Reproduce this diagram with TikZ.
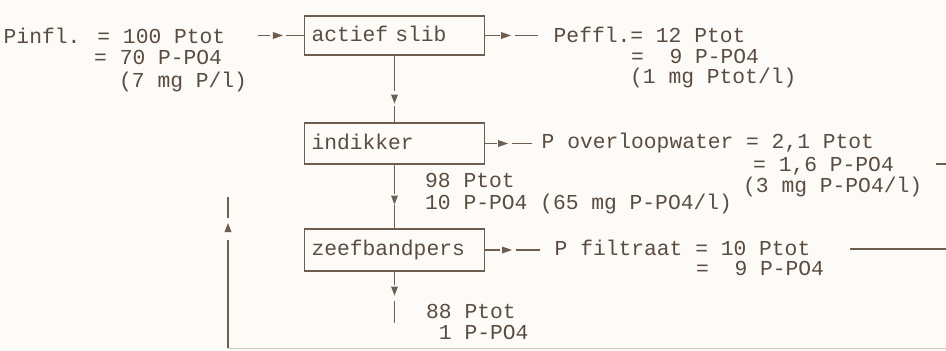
\documentclass[tikz,border=0pt]{standalone}
\usepackage{fontspec}
\newfontfamily\mono[WordSpace={1,0,0}]{Liberation Mono}
\definecolor{ink}{HTML}{5A4C40}
\definecolor{wire}{HTML}{6E5E50}
\definecolor{faint}{HTML}{CFC6BC}
\definecolor{paper}{HTML}{FCFBF8}
\begin{document}
\begin{tikzpicture}[x=1pt,y=-1pt,
  txt/.style={anchor=base west, inner sep=0pt, font=\mono\fontsize{21.3}{21}\selectfont, text=ink},
  stage/.style={draw=wire, line width=1.1pt, minimum width=180pt, inner xsep=7pt,
     text width=166pt, align=left, text height=11pt, text depth=0pt,
     font=\mono\fontsize{21.3}{21}\selectfont, text=ink},
  wirel/.style={draw=wire, line width=1.1pt},
  ahright/.pic={\fill[wire] (0,-3.5) -- (10,0) -- (0,3.5) -- cycle;},
  ahdown/.pic={\fill[wire] (-3.5,0) -- (0,9) -- (3.5,0) -- cycle;},
  ahup/.pic={\fill[wire] (-3.5,0) -- (0,-9) -- (3.5,0) -- cycle;}]
\fill[paper] (0,0) rectangle (946,351);
\useasboundingbox (0,0) rectangle (946,351);

% boxes
\node[stage, minimum height=39pt] (a) at (394.5,35.5) {actief slib};
\node[stage, minimum height=41pt] (i) at (394.5,143.5) {indikker};
\node[stage, minimum height=42pt] (z) at (394.5,250) {zeefbandpers};

% influent text
\node[txt] (p1) at (3.5,43) {Pinfl. = 100 Ptot};
\node[txt] (p2) at (94,64) {= 70 P-PO4};
\node[txt] (p3) at (119,87) {(7 mg P/l)};

% effluent text
\node[txt] (e1) at (553.5,42) {Peffl.= 12 Ptot};
\node[txt] (e2) at (631,63) {=\ \ 9 P-PO4};
\node[txt] (e3) at (630,83) {(1 mg Ptot/l)};

% overloop text
\node[txt] (o1) at (541.5,148) {P overloopwater = 2,1 Ptot};
\node[txt] (o2) at (753,171) {= 1,6 P-PO4};
\node[txt] (o3) at (743,192) {(3 mg P-PO4/l)};

% thickener underflow text
\node[txt] (t1) at (425,187) {98 Ptot};
\node[txt] (t2) at (425,209) {10 P-PO4 (65 mg P-PO4/l)};

% filtrate text
\node[txt] (f1) at (554.5,255) {P filtraat = 10 Ptot};
\node[txt] (f2) at (696,275) {=\ \ 9 P-PO4};

% cake text
\node[txt] (k1) at (426,318) {88 Ptot};
\node[txt] (k2) at (426,339) {\ 1 P-PO4};

% coordinates
\coordinate (inA) at (258,0);
\coordinate (oE) at (538,0);
\coordinate (oO) at (532,0);
\coordinate (oF) at (540,0);
\coordinate (cakeEnd) at (0,323);

% influent arrow
\draw[wirel] (a.west -| inA) -- ++(12,0);
\pic at ([xshift=-31pt]a.west) {ahright};
\draw[wirel] ([xshift=-18pt]a.west) -- (a.west);

% actief slib -> effluent
\draw[wirel] (a.east) -- ++(15,0);
\pic at ([xshift=16pt]a.east) {ahright};
\draw[wirel] ([xshift=30pt]a.east) -- (a.east -| oE);

% actief slib -> indikker
\draw[wirel] (a.south) -- ++(0,35);
\pic at ([yshift=-39pt]a.south) {ahdown};
\draw[wirel] ([yshift=16pt]i.north) -- (i.north);

% indikker -> overloop
\draw[wirel] (i.east) -- ++(12,0);
\pic at ([xshift=13pt]i.east) {ahright};
\draw[wirel] ([xshift=27pt]i.east) -- (i.east -| oO);
\coordinate (oR) at (936,164);
\draw[wirel] (oR) -- ++(10,0);

% indikker -> zeefbandpers
\draw[wirel] (i.south) -- ++(0,29);
\pic at ([yshift=-31pt]i.south) {ahdown};
\draw[wirel] ([yshift=23pt]z.north) -- (z.north);

% zeefbandpers -> filtraat
\draw[wirel] (z.east) -- ++(15,0);
\pic at ([xshift=17pt]z.east) {ahright};
\draw[wirel] ([xshift=31pt]z.east) -- (z.east -| oF);
\coordinate (fR) at (850,249);
\draw[wirel] (fR) -- ++(96,0);

% zeefbandpers -> cake
\draw[wirel] (z.south) -- ++(0,13);
\pic at ([yshift=-15pt]z.south) {ahdown};
\draw[wirel] ([yshift=-29pt]z.south) -- (z.south |- cakeEnd);

% return line
\coordinate (r0) at (228,348);
\draw[wirel] (228,197) -- (228,218);
\pic at (228,232) {ahup};
\draw[wirel] (228,240) -- (r0);
\draw[faint, line width=1pt] (r0) -- (946,348);
\end{tikzpicture}
\end{document}
